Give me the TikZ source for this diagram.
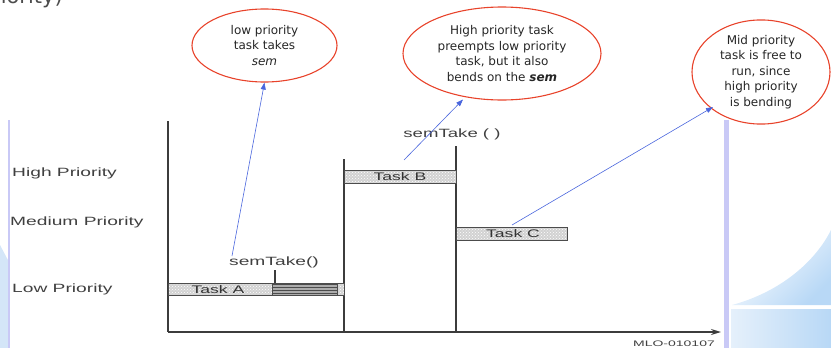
\documentclass[tikz,border=0pt]{standalone}
\usepackage{fontspec}
\setmainfont{DejaVu Sans}
\newfontfamily\chartfont{Liberation Sans}
\usetikzlibrary{arrows.meta,patterns,shapes.geometric}

\definecolor{calloutred}{HTML}{E8432B}
\definecolor{pointerblue}{HTML}{4A66DD}
\definecolor{railblue}{HTML}{C9C9F6}
\definecolor{paleblue}{HTML}{D4E6F8}
\definecolor{deepblue}{HTML}{B8D8F6}
\definecolor{inkgray}{HTML}{3C3C3C}

% horizontally widened chart lettering
\newcommand\widelabel[2][1.6]{\scalebox{#1}[1]{#2}}

\tikzset{
  callout/.style={ellipse, draw=calloutred, line width=1.1pt, inner sep=0pt,
    align=center, font=\fontsize{12}{15.5}\selectfont, text=black!85},
  pointer/.style={-{Triangle[length=7pt,width=5pt]}, draw=pointerblue, line width=0.6pt},
  axisline/.style={draw=inkgray, line width=1.5pt},
  chartlabel/.style={font=\chartfont\fontsize{12}{12}\selectfont, text=black!75, inner sep=0pt},
  tasklabel/.style={font=\chartfont\fontsize{11}{11}\selectfont, text=black!80, inner sep=0pt},
  taskbar/.style={draw=black!70, line width=0.6pt, preaction={fill=gray!35},
    pattern=crosshatch dots, pattern color=white},
  blockedbar/.style={draw=black!70, line width=0.6pt, preaction={fill=gray!65},
    pattern=horizontal lines, pattern color=black!70},
}

\begin{document}
\begin{tikzpicture}[x=1pt, y=-1pt]
\useasboundingbox (0,0) rectangle (831,348);
\clip (0,0) rectangle (831,348);

% slide decoration
\fill[paleblue] (0,245) -- (9,262) -- (9,348) -- (0,348) -- cycle;
\fill[railblue] (8,120) rectangle (9.5,348);
\fill[railblue] (724,120) rectangle (728.5,348);
\shade[left color=white, right color=deepblue, shading angle=45]
  (732,305) .. controls (780,292) and (815,262) .. (831,230) -- (831,305) -- cycle;
\shade[left color=paleblue!60, right color=deepblue] (731,309) rectangle (831,348);

% slide title, partly outside the frame
\node[anchor=base east, font=\fontsize{21}{21}\selectfont, text=black!70, inner sep=0pt]
  (title) at (63,4) {(Priority)};

% axes and context switch lines
\coordinate (origin) at (168,332);
\coordinate (ytop) at (168,121);
\coordinate (xend) at (721,332);
\draw[axisline] (ytop) -- (origin);
\draw[axisline, -{Stealth[length=10pt,width=6pt]}] (origin) -- (xend);
\coordinate (swB) at (344,159);
\coordinate (swBbot) at (344,332);
\coordinate (swC) at (456,146);
\coordinate (swCbot) at (456,332);
\draw[axisline] (swB) -- (swBbot);
\draw[axisline] (swC) -- (swCbot);

% task bars
\draw[taskbar] (168,283) rectangle (272,295);
\draw[blockedbar] (272,283) rectangle (337,295);
\draw[taskbar] (337,283) rectangle (344,295);
\node[tasklabel] (taskA) at (218,289.5) {\widelabel{Task A}};
\draw[taskbar] (344,170) rectangle (456,183);
\node[tasklabel] (taskB) at (400,176.5) {\widelabel{Task B}};
\draw[taskbar] (456,227) rectangle (567,240);
\node[tasklabel] (taskC) at (513,233.5) {\widelabel{Task C}};

% semaphore calls
\node[chartlabel] (takeA) at (274,262) {\widelabel{semTake()}};
\coordinate (tickTop) at (275,270);
\coordinate (tickBot) at (275,283);
\draw[draw=inkgray, line width=1.2pt] (tickTop) -- (tickBot);
\node[chartlabel] (takeB) at (452,134) {\widelabel[1.55]{semTake ( )}};

% priority levels
\node[chartlabel, anchor=west] (high) at (12,173) {\widelabel{High Priority}};
\node[chartlabel, anchor=west] (med) at (10,222) {\widelabel{Medium Priority}};
\node[chartlabel, anchor=west] (low) at (12,289) {\widelabel{Low Priority}};
\node[font=\chartfont\fontsize{8}{8}\selectfont, text=black!75, inner sep=0pt]
  (ref) at (674,344) {\widelabel[1.75]{MLO-010107}};

% callouts
\node[callout, minimum width=145pt, minimum height=73pt] (c1) at (264.5,45.5)
  {low priority\\task takes\\\textit{sem}};
\node[callout, minimum width=198pt, minimum height=93pt] (c2) at (502,53.5)
  {High priority task\\preempts low priority\\task, but it also\\bends on the \textbf{\textit{sem}}};
\node[callout, minimum width=138pt, minimum height=96pt] (c3) at (761,72)
  {Mid priority\\task is free to\\run, since\\high priority\\is bending};

% pointers from the timeline to the callouts
\coordinate (pA) at (232,256);
\coordinate (pB) at (404,160);
\coordinate (pC) at (512,225);
\coordinate (hB) at (463,99.5);
\coordinate (hC) at (713,107);
\draw[pointer] (pA) -- (c1.south);
\draw[pointer] (pB) -- (hB);
\draw[pointer] (pC) -- (hC);
\end{tikzpicture}
\end{document}
